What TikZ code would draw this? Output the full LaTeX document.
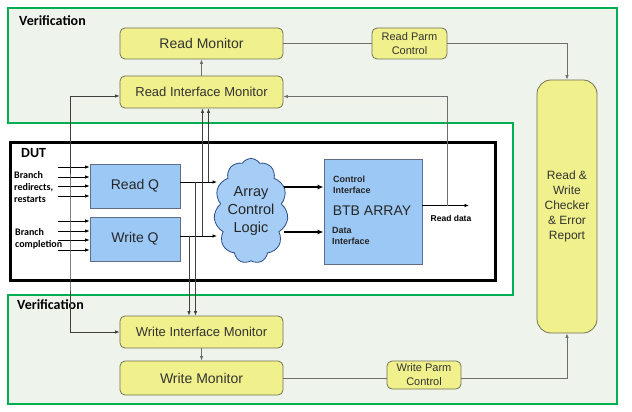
\documentclass[tikz,border=0pt]{standalone}
\usepackage{fontspec}
\setmainfont{Liberation Sans}
\newfontfamily\calibrifont{Carlito}
\usetikzlibrary{shapes.symbols, arrows.meta}

\definecolor{vgreen}{RGB}{0,176,80}
\definecolor{vback}{RGB}{238,243,236}
\definecolor{monyellow}{RGB}{240,240,140}
\definecolor{monedge}{RGB}{115,115,85}
\definecolor{qblue}{RGB}{155,200,245}
\definecolor{qedge}{RGB}{95,110,135}
\definecolor{cloudblue}{RGB}{165,205,245}
\definecolor{cloudedge}{RGB}{45,75,135}
\definecolor{wire}{RGB}{110,110,110}

\begin{document}
\begin{tikzpicture}[x=1pt, y=-1pt,
  mon/.style={draw=monedge, fill=monyellow, rounded corners=5pt, line width=0.8pt, text=black!80, inner sep=0pt, align=center},
  qbox/.style={draw=qedge, fill=qblue, line width=0.8pt, text=black!85, inner sep=0pt},
  vlabel/.style={font=\calibrifont\bfseries\fontsize{14}{16}\selectfont, inner sep=0pt},
  small/.style={font=\calibrifont\bfseries\fontsize{10}{12}\selectfont, inner sep=0pt, align=left},
  ifx/.style={font=\bfseries\fontsize{9}{11}\selectfont, inner sep=0pt, align=left, text=black!85},
  tip/.style={-{Latex[length=4.5pt,width=3.5pt]}},
  wire/.style={draw=wire, line width=0.8pt},
  tap/.style={draw=black!75, line width=0.8pt}]
% page
\fill[white] (0,0) rectangle (632,412);
\useasboundingbox (0,0) rectangle (632,412);
% verification area
\draw[vgreen, line width=2.8pt, fill=vback] (8,8) -- (617,8) -- (617,404) -- (8,404) -- (8,295) -- (513,295) -- (513,123) -- (8,123) -- cycle;
\node[vlabel, anchor=west] (vtop) at (19,21) {Verification};
\node[vlabel, anchor=west] (vbot) at (17,305) {Verification};
% DUT
\draw[line width=3pt, fill=white] (10,142) rectangle (495,280);
\node[vlabel, anchor=west] (dut) at (21,153) {DUT};

% monitors
\node[mon, minimum width=163pt, minimum height=31pt, font=\fontsize{14}{16}\selectfont] (rm) at (201.5,43.5) {Read Monitor};
\node[mon, minimum width=163pt, minimum height=32pt, font=\fontsize{13}{15}\selectfont] (rim) at (201.5,92) {Read Interface Monitor};
\node[mon, minimum width=163pt, minimum height=32pt, font=\fontsize{13}{15}\selectfont] (wim) at (201.5,332) {Write Interface Monitor};
\node[mon, minimum width=163pt, minimum height=34pt, font=\fontsize{14}{16}\selectfont] (wm) at (201.5,378) {Write Monitor};
\node[mon, minimum width=75pt, minimum height=31pt, font=\fontsize{11}{14}\selectfont] (rpc) at (409.5,43.5) {Read Parm\\Control};
\node[mon, minimum width=74pt, minimum height=28pt, font=\fontsize{11}{14}\selectfont] (wpc) at (424,375) {Write Parm\\Control};
\node[mon, rounded corners=14pt, minimum width=60pt, minimum height=253pt, font=\fontsize{12}{15}\selectfont] (checker) at (567,206.5) {Read \&\\Write\\Checker\\\& Error\\Report};

% DUT blocks
\node[qbox, minimum width=90pt, minimum height=44pt, font=\fontsize{14}{16}\selectfont] (readq) at (135,186) {Read Q};
\node[qbox, minimum width=90pt, minimum height=44pt, font=\fontsize{14}{16}\selectfont] (writeq) at (135,239) {Write Q};
\node[cloud, cloud puffs=11, cloud puff arc=115, cloud ignores aspect, draw=cloudedge, fill=cloudblue, line width=0.8pt,
  minimum width=72pt, minimum height=105pt, inner sep=0pt, align=center, text=black!85,
  font=\fontsize{14.5}{18}\selectfont] (cloud) at (251,211) {Array\\Control\\Logic};
\node[qbox, minimum width=98pt, minimum height=105pt] (btb) at (373,211.5) {};
\node[font=\fontsize{14}{16}\selectfont, text=black!85, inner sep=0pt] (btbtxt) at (372,211) {BTB ARRAY};
\node[ifx, anchor=west] (ctrlif) at (333,184.5) {Control\\Interface};
\node[ifx, anchor=west] (dataif) at (332,235.5) {Data\\Interface};

% inputs
\node[small, anchor=west] (brr) at (14,187) {Branch\\redirects,\\restarts};
\node[small, anchor=west] (brc) at (15,238.5) {Branch\\completion};
\foreach \y in {167,177,186,196} {
  \coordinate (rin) at (58,\y);
  \draw[tip, line width=0.8pt] (rin) -- (rin -| readq.west);
}
\foreach \y in {221,231,240,250} {
  \coordinate (win) at (58,\y);
  \draw[tip, line width=0.8pt] (win) -- (win -| writeq.west);
}

% queue outputs and taps
\coordinate (rqo) at ([yshift=4pt]readq.east);
\coordinate (wqo) at ([yshift=3pt]writeq.east);
\draw[tip, line width=0.8pt] (rqo) -- (rqo -| 217,0);
\draw[tip, line width=0.8pt] (wqo) -- (wqo -| 217,0);
\coordinate (rimA) at ([xshift=1pt]rim.south);
\coordinate (rimB) at ([xshift=7pt]rim.south);
\coordinate (wimA) at ([xshift=-12.5pt]wim.north);
\coordinate (wimB) at ([xshift=-6pt]wim.north);
\draw[tap, tip] (rimA |- wqo) -- (rimA);
\draw[tap, tip] (rimB |- rqo) -- (rimB);
\draw[tap, tip] (wimA |- wqo) -- (wimA);
\draw[tap, tip] (wimB |- rqo) -- (wimB);
\coordinate (ltap) at (70,250);
\draw[tap, {Latex[length=4.5pt,width=3.5pt]}-{Latex[length=4.5pt,width=3.5pt]}] ([yshift=-4pt]rim.west) -| (ltap) |- (wim.west);

% cloud to array
\coordinate (c1) at (284,187);
\coordinate (c2) at (284,232);
\draw[-{Latex[length=6pt,width=5pt]}, line width=2pt] (c1) -- (c1 -| btb.west);
\draw[-{Latex[length=6pt,width=5pt]}, line width=2pt] (c2) -- (c2 -| btb.west);

% read data
\coordinate (rdo) at ([yshift=6pt]btb.east);
\coordinate (rdend) at (469,205.5);
\coordinate (rdtap) at (447,205.5);
\draw[tip, line width=0.8pt] (rdo) -- (rdend);
\draw[wire, tip] (rdtap) |- ([yshift=-4.5pt]rim.east);
\node[font=\bfseries\fontsize{8.5}{10}\selectfont, inner sep=0pt] (rdlabel) at (451,218) {Read data};

% monitor chains
\draw[wire, tip] (rim) -- (rm);
\draw[wire, tip] (wim) -- (wm);
\draw[wire] (rm) -- (rpc);
\draw[wire, tip] (rpc.east) -| (checker.north);
\coordinate (wmo) at (wm.east);
\draw[wire] (wmo) -- (wmo -| wpc.west);
\draw[wire, tip] (wpc.east |- wmo) -| (checker.south);
\end{tikzpicture}
\end{document}
